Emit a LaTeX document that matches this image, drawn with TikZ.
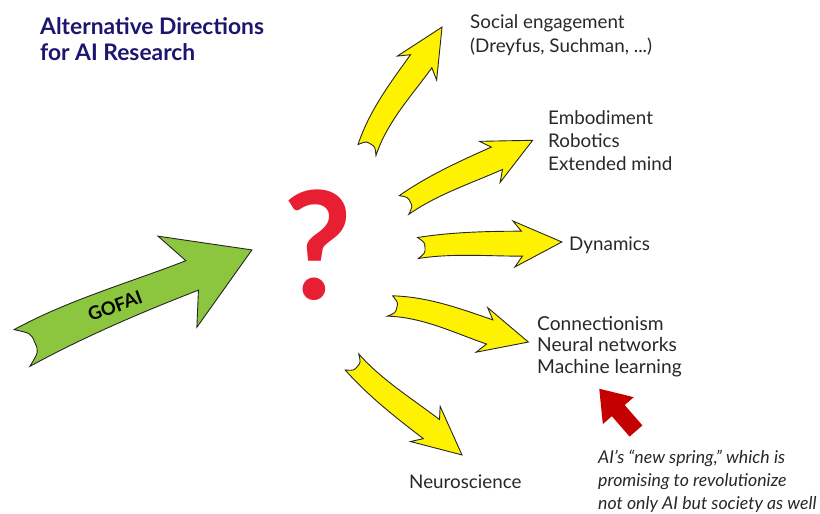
\documentclass[tikz,border=0pt]{standalone}
\usepackage{fontspec}
\setmainfont{Lato}
\setsansfont{Lato}
\definecolor{titleblue}{RGB}{27,22,110}
\definecolor{arrowyellow}{RGB}{255,242,0}
\definecolor{gofaigreen}{RGB}{140,198,63}
\definecolor{qred}{RGB}{232,30,50}
\definecolor{springred}{RGB}{196,0,0}
\definecolor{bodytext}{RGB}{40,40,40}

% #1 scope options, #2 length, #3 tail width, #4 body width at head,
% #5 head width, #6 head length, #7 bend, #8 tail notch, #9 barb sweep
\newcommand{\bentarrow}[9]{%
  \begin{scope}[#1]
    \path[arrowfill]
      (0,{-#3/2}) .. controls ({#8},{-#3/4}) .. ({#8},0)
      .. controls ({#8},{#3/4}) .. (0,{#3/2})
      .. controls ({(#2-#6)/3},{#3/2+(#7)}) and ({2*(#2-#6)/3},{#4/2+(#7)/3}) .. ({#2-#6},{#4/2})
      -- ({#2-#6-#9},{#5/2})
      -- (#2,0)
      -- ({#2-#6-#9},{-#5/2})
      -- ({#2-#6},{-#4/2})
      .. controls ({2*(#2-#6)/3},{-#4/2+(#7)/3}) and ({(#2-#6)/3},{-#3/2+(#7)}) .. (0,{-#3/2})
      -- cycle;
  \end{scope}}

\begin{document}
\begin{tikzpicture}[x=1pt,y=-1pt,
  arrowfill/.style={},
  yellowarrow/.style={arrowfill/.style={fill=arrowyellow,draw=black!85,line width=0.9pt,line join=miter}},
  greenarrow/.style={arrowfill/.style={fill=gofaigreen,draw=black!85,line width=0.9pt,line join=miter}},
  redarrow/.style={arrowfill/.style={fill=springred}},
  label/.style={anchor=base west,align=left,text=bodytext,font=\fontsize{18.8}{23}\selectfont,inner sep=0pt},
  title/.style={anchor=base west,align=left,text=titleblue,font=\fontsize{22.8}{25.5}\selectfont\bfseries,inner sep=0pt}]
\useasboundingbox (0,0) rectangle (820,514);

% heading (anchored on its last baseline)
\node[title] (heading) at (40,60) {Alternative Directions\\for AI Research};

% the old road
\bentarrow{shift={(22,348)},rotate=23.1,greenarrow}{250}{40}{32}{99}{65}{-6}{14}{16}
\node[font=\fontsize{18.5}{18.5}\selectfont\bfseries,rotate=20,inner sep=0pt] (gofai) at (115,306) {GOFAI};

% open question
\node[text=qred,font=\fontsize{150}{150}\selectfont\bfseries,inner sep=0pt] (question) at (318,245) {?};

% the five new directions
\bentarrow{shift={(367,150)},rotate=58.6,yellowarrow}{144}{21}{25}{46}{40}{-8}{7}{8}
\bentarrow{shift={(404,205)},rotate=26.7,yellowarrow}{144}{21}{25}{46}{40}{-5}{7}{8}
\bentarrow{shift={(418,248)},rotate=2.4,yellowarrow}{144}{21}{25}{46}{40}{-4}{7}{8}
\bentarrow{shift={(390,306)},rotate=-14.6,yellowarrow}{143}{21}{25}{46}{40}{-8}{7}{8}
\bentarrow{shift={(352,362)},rotate=-40.2,yellowarrow}{144}{21}{25}{46}{40}{5}{7}{8}

\node[label,font=\fontsize{18.8}{24}\selectfont] (social) at (470,52) {Social engagement\\(Dreyfus, Suchman, ...)};
\node[label] (embodiment) at (548,170) {Embodiment\\Robotics\\Extended mind};
\node[label] (dynamics) at (569,250) {Dynamics};
\node[label,font=\fontsize{19.2}{21.3}\selectfont] (connectionism) at (537,373) {Connectionism\\Neural networks\\Machine learning};
\node[label] (neuro) at (409,488) {Neuroscience};

% the new spring
\bentarrow{shift={(636,431)},rotate=131,redarrow}{56}{17}{17}{41}{29}{0}{0}{0}
\node[label,font=\fontsize{17.7}{23}\selectfont\itshape] (spring) at (598,509) {AI’s “new spring,” which is\\promising to revolutionize\\not only AI but society as well};
\end{tikzpicture}
\end{document}
